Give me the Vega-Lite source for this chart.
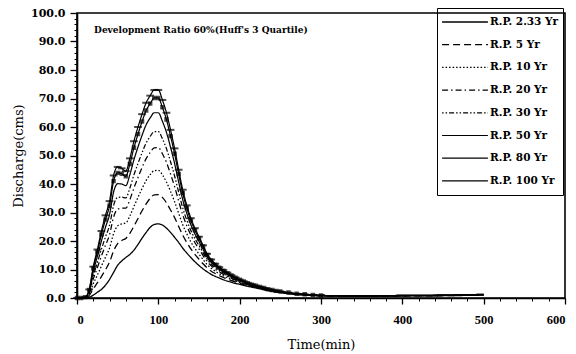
{
  "$schema": "https://vega.github.io/schema/vega-lite/v6.json",
  "width": 488,
  "height": 285,
  "autosize": {"type": "none"},
  "padding": {"left": 77, "top": 13, "right": 11, "bottom": 56},
  "background": "white",
  "config": {
    "view": {"stroke": "black", "strokeWidth": 1.6},
    "font": "DejaVu Serif",
    "axis": {
      "labelFont": "DejaVu Serif", "labelFontWeight": "bold", "labelFontSize": 11, "labelColor": "black", "labelOverlap": false,
      "titleFont": "DejaVu Serif", "titleFontWeight": "normal", "titleFontSize": 13, "titleColor": "black",
      "domainColor": "black", "domainWidth": 1.6, "tickColor": "black", "tickWidth": 1.3, "tickSize": 6, "grid": false
    }
  },
  "resolve": {"axis": {"x": "independent", "y": "independent"}},
  "data": {
    "values": [
      {"t":0,"p2":0,"p5":0,"p10":0,"p20":0,"p30":0,"p50":0,"p80":0,"p100":0},
      {"t":5,"p2":0,"p5":0,"p10":0,"p20":0,"p30":0,"p50":0,"p80":0,"p100":0},
      {"t":10,"p2":0,"p5":0.1,"p10":0.1,"p20":0.2,"p30":0.2,"p50":0.2,"p80":0.3,"p100":0.3},
      {"t":15,"p2":0.3,"p5":0.9,"p10":1.4,"p20":1.8,"p30":2.2,"p50":2.5,"p80":2.8,"p100":3},
      {"t":20,"p2":1,"p5":3.2,"p10":5,"p20":6.7,"p30":7.9,"p50":9.3,"p80":10.4,"p100":11},
      {"t":25,"p2":2,"p5":5.3,"p10":8,"p20":10.6,"p30":12.4,"p50":14.5,"p80":16.1,"p100":17},
      {"t":30,"p2":3,"p5":7.5,"p10":11.2,"p20":14.7,"p30":17.1,"p50":20,"p80":22.3,"p100":23.5},
      {"t":35,"p2":4.5,"p5":9.9,"p10":14.3,"p20":18.5,"p30":21.4,"p50":24.8,"p80":27.5,"p100":29},
      {"t":40,"p2":6.5,"p5":12.6,"p10":17.5,"p20":22.2,"p30":25.5,"p50":29.3,"p80":32.4,"p100":34},
      {"t":45,"p2":9,"p5":16.5,"p10":22.6,"p20":28.4,"p30":32.5,"p50":37.2,"p80":41,"p100":43},
      {"t":50,"p2":11.5,"p5":19.1,"p10":25.3,"p20":31.2,"p30":35.3,"p50":40.1,"p80":43.9,"p100":46},
      {"t":55,"p2":13,"p5":20.2,"p10":26,"p20":31.5,"p30":35.4,"p50":40,"p80":43.6,"p100":45.5},
      {"t":60,"p2":14.2,"p5":20.9,"p10":26.3,"p20":31.5,"p30":35.1,"p50":39.4,"p80":42.7,"p100":44.5},
      {"t":65,"p2":15.3,"p5":22.7,"p10":28.8,"p20":34.5,"p30":38.6,"p50":43.3,"p80":47,"p100":49},
      {"t":70,"p2":16.8,"p5":25.2,"p10":32.1,"p20":38.6,"p30":43.2,"p50":48.5,"p80":52.7,"p100":55},
      {"t":75,"p2":18.8,"p5":27.9,"p10":35.3,"p20":42.3,"p30":47.2,"p50":53,"p80":57.5,"p100":60},
      {"t":80,"p2":21,"p5":30.6,"p10":38.4,"p20":45.8,"p30":51,"p50":57.1,"p80":61.9,"p100":64.5},
      {"t":85,"p2":23,"p5":33,"p10":41.2,"p20":48.9,"p30":54.4,"p50":60.8,"p80":65.8,"p100":68.5},
      {"t":90,"p2":24.8,"p5":35,"p10":43.3,"p20":51.1,"p30":56.7,"p50":63.2,"p80":68.2,"p100":71},
      {"t":95,"p2":25.8,"p5":36.2,"p10":44.7,"p20":52.7,"p30":58.4,"p50":65,"p80":70.2,"p100":73},
      {"t":100,"p2":26,"p5":36.3,"p10":44.8,"p20":52.8,"p30":58.4,"p50":65,"p80":70.2,"p100":73},
      {"t":105,"p2":25.6,"p5":35.3,"p10":43.2,"p20":50.6,"p30":55.9,"p50":62,"p80":66.9,"p100":69.5},
      {"t":110,"p2":24.5,"p5":33.4,"p10":40.7,"p20":47.6,"p30":52.4,"p50":58.1,"p80":62.6,"p100":65},
      {"t":115,"p2":23,"p5":30.9,"p10":37.4,"p20":43.5,"p30":47.8,"p50":52.9,"p80":56.8,"p100":59},
      {"t":120,"p2":21.3,"p5":28.2,"p10":33.8,"p20":39.1,"p30":42.8,"p50":47.2,"p80":50.6,"p100":52.5},
      {"t":125,"p2":19.5,"p5":25.1,"p10":29.7,"p20":34,"p30":37.1,"p50":40.7,"p80":43.5,"p100":45},
      {"t":130,"p2":17.5,"p5":22,"p10":25.7,"p20":29.2,"p30":31.6,"p50":34.5,"p80":36.8,"p100":38},
      {"t":135,"p2":15.8,"p5":19.5,"p10":22.5,"p20":25.3,"p30":27.3,"p50":29.7,"p80":31.5,"p100":32.5},
      {"t":140,"p2":14.2,"p5":17.2,"p10":19.7,"p20":22.1,"p30":23.7,"p50":25.7,"p80":27.2,"p100":28},
      {"t":145,"p2":12.7,"p5":15.3,"p10":17.4,"p20":19.4,"p30":20.8,"p50":22.5,"p80":23.8,"p100":24.5},
      {"t":150,"p2":11.4,"p5":13.6,"p10":15.4,"p20":17.2,"p30":18.4,"p50":19.8,"p80":20.9,"p100":21.5},
      {"t":155,"p2":10.2,"p5":12,"p10":13.5,"p20":14.9,"p30":15.9,"p50":17.1,"p80":18,"p100":18.5},
      {"t":160,"p2":9.2,"p5":10.6,"p10":11.7,"p20":12.8,"p30":13.6,"p50":14.4,"p80":15.1,"p100":15.5},
      {"t":165,"p2":8.3,"p5":9.4,"p10":10.4,"p20":11.3,"p30":11.9,"p50":12.6,"p80":13.2,"p100":13.5},
      {"t":170,"p2":7.6,"p5":8.6,"p10":9.4,"p20":10.1,"p30":10.6,"p50":11.3,"p80":11.7,"p100":12},
      {"t":175,"p2":7,"p5":7.8,"p10":8.5,"p20":9.2,"p30":9.6,"p50":10.2,"p80":10.6,"p100":10.8},
      {"t":180,"p2":6.4,"p5":7.2,"p10":7.8,"p20":8.3,"p30":8.8,"p50":9.2,"p80":9.6,"p100":9.8},
      {"t":185,"p2":5.9,"p5":6.6,"p10":7.1,"p20":7.6,"p30":8,"p50":8.4,"p80":8.7,"p100":8.9},
      {"t":190,"p2":5.5,"p5":6.1,"p10":6.5,"p20":6.9,"p30":7.2,"p50":7.6,"p80":7.9,"p100":8},
      {"t":195,"p2":5.1,"p5":5.6,"p10":5.9,"p20":6.3,"p30":6.6,"p50":6.8,"p80":7.1,"p100":7.2},
      {"t":200,"p2":4.8,"p5":5.2,"p10":5.5,"p20":5.8,"p30":6,"p50":6.2,"p80":6.4,"p100":6.5},
      {"t":205,"p2":4.4,"p5":4.7,"p10":5,"p20":5.3,"p30":5.4,"p50":5.7,"p80":5.8,"p100":5.9},
      {"t":210,"p2":4.1,"p5":4.4,"p10":4.6,"p20":4.8,"p30":4.9,"p50":5.1,"p80":5.2,"p100":5.3},
      {"t":215,"p2":3.8,"p5":4,"p10":4.2,"p20":4.4,"p30":4.5,"p50":4.6,"p80":4.7,"p100":4.8},
      {"t":220,"p2":3.5,"p5":3.7,"p10":3.8,"p20":4,"p30":4.1,"p50":4.2,"p80":4.3,"p100":4.3},
      {"t":225,"p2":3.2,"p5":3.4,"p10":3.5,"p20":3.6,"p30":3.7,"p50":3.8,"p80":3.9,"p100":3.9},
      {"t":230,"p2":2.9,"p5":3,"p10":3.1,"p20":3.2,"p30":3.3,"p50":3.4,"p80":3.5,"p100":3.5},
      {"t":235,"p2":2.6,"p5":2.7,"p10":2.8,"p20":2.9,"p30":3,"p50":3,"p80":3.1,"p100":3.1},
      {"t":240,"p2":2.3,"p5":2.4,"p10":2.5,"p20":2.6,"p30":2.7,"p50":2.7,"p80":2.8,"p100":2.8},
      {"t":245,"p2":2.1,"p5":2.2,"p10":2.3,"p20":2.3,"p30":2.4,"p50":2.4,"p80":2.5,"p100":2.5},
      {"t":250,"p2":1.9,"p5":2,"p10":2.1,"p20":2.1,"p30":2.2,"p50":2.2,"p80":2.3,"p100":2.3},
      {"t":260,"p2":1.5,"p5":1.6,"p10":1.7,"p20":1.7,"p30":1.8,"p50":1.8,"p80":1.9,"p100":1.9},
      {"t":270,"p2":1.2,"p5":1.3,"p10":1.3,"p20":1.4,"p30":1.4,"p50":1.5,"p80":1.5,"p100":1.5},
      {"t":280,"p2":1,"p5":1.1,"p10":1.1,"p20":1.2,"p30":1.2,"p50":1.3,"p80":1.3,"p100":1.3},
      {"t":290,"p2":0.85,"p5":0.9,"p10":1,"p20":1,"p30":1,"p50":1.1,"p80":1.1,"p100":1.1},
      {"t":300,"p2":0.75,"p5":0.8,"p10":0.8,"p20":0.8,"p30":0.9,"p50":0.9,"p80":0.9,"p100":0.9},
      {"t":350,"p2":0.6,"p5":0.6,"p10":0.7,"p20":0.7,"p30":0.7,"p50":0.8,"p80":0.8,"p100":0.8},
      {"t":400,"p2":0.7,"p5":0.7,"p10":0.8,"p20":0.8,"p30":0.8,"p50":0.9,"p80":0.9,"p100":0.9},
      {"t":450,"p2":0.8,"p5":0.8,"p10":0.9,"p20":0.9,"p30":0.9,"p50":1,"p80":1,"p100":1},
      {"t":500,"p2":1,"p5":1.1,"p10":1.1,"p20":1.2,"p30":1.2,"p50":1.2,"p80":1.3,"p100":1.3}
    ]
  },
  "layer": [
    {
      "transform": [{"fold": ["p2","p5","p10","p20","p30","p50","p80","p100"], "as": ["rp","q"]}],
      "mark": {"type": "line", "color": "black", "interpolate": "monotone"},
      "encoding": {
        "x": {"field": "t", "type": "quantitative", "scale": {"domain": [0, 600], "nice": false},
              "axis": {"orient": "bottom", "values": [0,100,200,300,400,500,600], "title": "Time(min)",
                       "labelFont": "Liberation Serif", "labelFontSize": 12.5, "labelPadding": 9, "titlePadding": 13}},
        "y": {"field": "q", "type": "quantitative", "scale": {"domain": [0, 100], "nice": false},
              "axis": {"orient": "left", "values": [0,10,20,30,40,50,60,70,80,90,100], "format": ".1f", "title": "Discharge(cms)",
                       "tickSize": 7, "labelPadding": 5, "titlePadding": 5}},
        "detail": {"field": "rp"},
        "strokeDash": {"field": "rp", "type": "nominal",
          "scale": {"domain": ["p2","p5","p10","p20","p30","p50","p80","p100"],
                    "range": [[1,0],[7,4],[1.5,2],[6,3,1.5,3],[1.5,2,1.5,2,5,2],[1,0],[1,0],[1,0]]},
          "legend": {"title": null,
            "labelExpr": "datum.value == 'p2' ? 'R.P. 2.33 Yr' : datum.value == 'p5' ? 'R.P. 5 Yr' : datum.value == 'p10' ? 'R.P. 10 Yr' : datum.value == 'p20' ? 'R.P. 20 Yr' : datum.value == 'p30' ? 'R.P. 30 Yr' : datum.value == 'p50' ? 'R.P. 50 Yr' : datum.value == 'p80' ? 'R.P. 80 Yr' : 'R.P. 100 Yr'",
            "orient": "none", "legendX": 360, "legendY": -5, "symbolType": "stroke", "symbolSize": 2100,
            "symbolStrokeColor": "black", "strokeColor": "black", "padding": 4, "rowPadding": 2.7, "clipHeight": 20,
            "labelFont": "DejaVu Serif", "labelFontWeight": "bold", "labelFontSize": 10.5, "labelColor": "black", "labelOffset": 1}},
        "strokeWidth": {"field": "rp", "type": "nominal",
          "scale": {"domain": ["p2","p5","p10","p20","p30","p50","p80","p100"], "range": [1.3,1.2,1,1,1,0.7,1.4,1.9]},
          "legend": null}
      }
    },
    {
      "transform": [{"fold": ["p80","p100"], "as": ["rp","q"]}, {"filter": "datum.t <= 300"}],
      "mark": {"type": "point", "color": "black", "filled": false, "strokeWidth": 2},
      "encoding": {
        "x": {"field": "t", "type": "quantitative",
              "axis": {"orient": "bottom", "values": [20,40,60,80,120,140,160,180,220,240,260,280,320,340,360,380,420,440,460,480,520,540,560,580],
                       "labels": false, "domain": false, "title": null, "tickSize": 3, "tickWidth": 1}},
        "y": {"field": "q", "type": "quantitative",
              "axis": {"orient": "left", "values": [2,4,6,8,12,14,16,18,22,24,26,28,32,34,36,38,42,44,46,48,52,54,56,58,62,64,66,68,72,74,76,78,82,84,86,88,92,94,96,98],
                       "labels": false, "domain": false, "title": null, "tickSize": 3, "tickWidth": 1}},
        "shape": {"field": "rp", "type": "nominal", "scale": {"domain": ["p80","p100"], "range": ["square","stroke"]}, "legend": null},
        "size": {"field": "rp", "type": "nominal", "scale": {"domain": ["p80","p100"], "range": [6, 60]}, "legend": null}
      }
    },
    {
      "data": {"values": [{"t": 21, "q": 94, "label": "Development Ratio 60%(Huff's 3 Quartile)"}]},
      "mark": {"type": "text", "align": "left", "baseline": "middle", "font": "DejaVu Serif", "fontWeight": "bold", "fontSize": 9, "color": "black"},
      "encoding": {
        "x": {"field": "t", "type": "quantitative", "axis": null},
        "y": {"field": "q", "type": "quantitative", "axis": null},
        "text": {"field": "label"}
      }
    }
  ]
}
